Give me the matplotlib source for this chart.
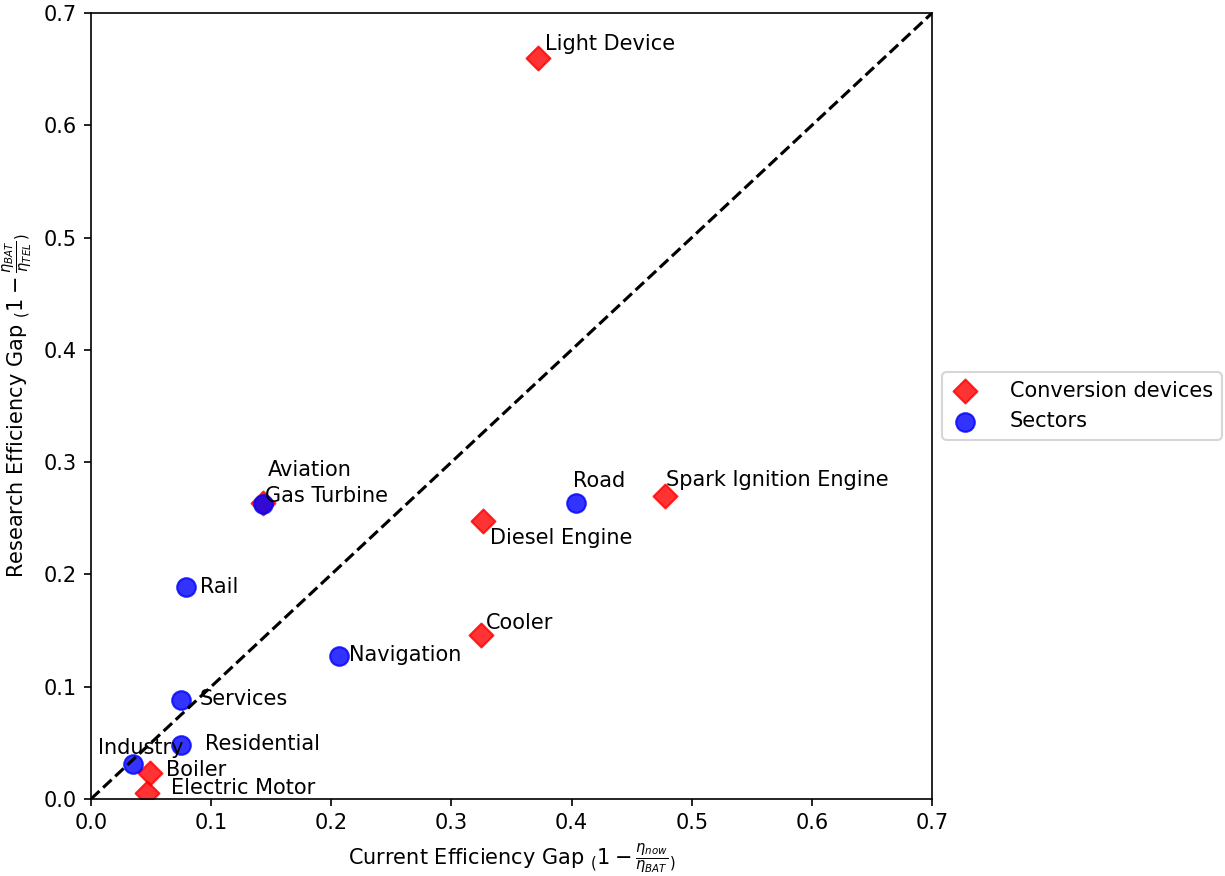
import matplotlib
matplotlib.use("Agg")
import matplotlib.pyplot as plt

# conversion devices: current gap vs research gap
dev_names = ["Light Device", "Spark Ignition Engine", "Diesel Engine", "Cooler",
             "Gas Turbine", "Boiler", "Electric Motor"]
dev_x = [0.372, 0.478, 0.326, 0.325, 0.143, 0.049, 0.047]
dev_y = [0.660, 0.270, 0.248, 0.146, 0.264, 0.023, 0.005]

# sectors
sec_names = ["Road", "Navigation", "Aviation", "Rail", "Services", "Residential", "Industry"]
sec_x = [0.404, 0.206, 0.143, 0.079, 0.075, 0.075, 0.035]
sec_y = [0.264, 0.127, 0.263, 0.189, 0.088, 0.048, 0.031]

# label offsets (points)
dev_off = [(3.4, 6.7), (0.5, 7.7), (3.4, -8.6), (2, 5.8), (1.0, 3.0), (7.7, 1.4), (11.5, 2.4)]
sec_off = [(-1.5, 10.5), (4.8, 0.5), (2.4, 16.3), (6.7, 0), (9.1, 0.5), (11.5, 0.5), (-16.8, 7.7)]

fig = plt.figure(figsize=(1225 / 150, 876 / 150), dpi=150)
ax = fig.add_axes([0.0743, 0.088, 0.6865, 0.897])

ax.plot([0, 0.7], [0, 0.7], "k--", lw=1.5)
ax.scatter(dev_x, dev_y, marker="D", s=66, c="red", alpha=0.8, label="Conversion devices")
ax.scatter(sec_x, sec_y, marker="o", s=80, c="blue", alpha=0.8, label="Sectors")

for name, x, y, off in zip(dev_names, dev_x, dev_y, dev_off):
    ax.annotate(name, (x, y), xytext=off, textcoords="offset points", ha="left", va="center")
for name, x, y, off in zip(sec_names, sec_x, sec_y, sec_off):
    ax.annotate(name, (x, y), xytext=off, textcoords="offset points", ha="left", va="center")

ax.set_xlim(0, 0.7)
ax.set_ylim(0, 0.7)
ax.set_xlabel(r"Current Efficiency Gap $_($$1-\frac{\eta_{now}}{\eta_{BAT}}$$_)$")
ax.set_ylabel(r"Research Efficiency Gap $_($$1-\frac{\eta_{BAT}}{\eta_{TEL}}$$_)$")
ax.legend(loc="center left", bbox_to_anchor=(1.0, 0.5), handlelength=1.4, handletextpad=1.45)

fig.savefig("out.png", dpi=150)
